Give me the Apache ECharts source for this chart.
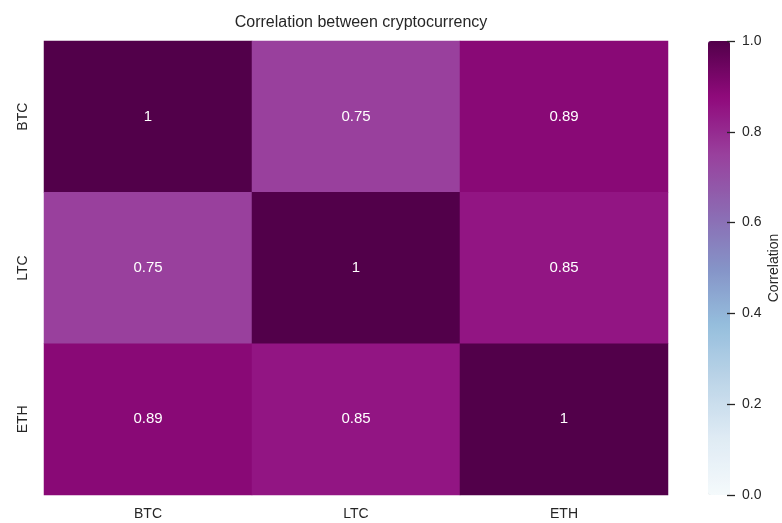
<!DOCTYPE html>
<html><head><meta charset="utf-8">
<script src="https://cdn.jsdelivr.net/npm/echarts@6/dist/echarts.min.js"></script>
<style>html,body{margin:0;padding:0;background:#fff}#c{width:782px;height:523px}</style>
</head><body><div id="c"></div>
<script>
const coins = ['BTC', 'LTC', 'ETH'];
const corrBTC = [1, 0.75, 0.89];
const corrLTC = [0.75, 1, 0.85];
const corrETH = [0.89, 0.85, 1];
const colorbarTicks = [0, 0.2, 0.4, 0.6, 0.8, 1.0];
const rows = [corrBTC, corrLTC, corrETH];
const data = [];
rows.forEach((r, yi) => r.forEach((v, xi) => data.push([xi, yi, v])));
const FONT = '"Liberation Sans", Arial, sans-serif';
const chart = echarts.init(document.getElementById('c'));
chart.setOption({
  animation: false,
  backgroundColor: '#fff',
  title: {text: 'Correlation between cryptocurrency', left: 356, top: 10, textAlign: 'center',
    textStyle: {fontFamily: FONT, fontSize: 16, fontWeight: 'normal', color: '#262626'}},
  grid: [
    {left: 44, right: 114, top: 41, bottom: 28},
    {left: 708, width: 22, top: 41, height: 454, z: 10}
  ],
  xAxis: [
    {type: 'category', data: coins, gridIndex: 0, axisLine: {show: false}, axisTick: {show: false},
      axisLabel: {fontFamily: FONT, fontSize: 14, color: '#262626', margin: 12}, splitLine: {show: false}},
    {type: 'value', gridIndex: 1, show: false, min: 0, max: 1}
  ],
  yAxis: [
    {type: 'category', data: coins, inverse: true, gridIndex: 0, axisLine: {show: false}, axisTick: {show: false},
      axisLabel: {fontFamily: FONT, fontSize: 14, color: '#262626', rotate: 90, margin: 14}, splitLine: {show: false}},
    {type: 'value', gridIndex: 1, position: 'right', offset: 8, min: 0, max: 1, interval: 0.2, z: 20,
      axisLine: {show: true, onZero: false, lineStyle: {color: 'rgba(0,0,0,0)'}},
      axisTick: {show: true, inside: false, length: 8, lineStyle: {color: '#262626', width: 1.3}},
      axisLabel: {fontFamily: FONT, fontSize: 14, color: '#262626', margin: 15,
        formatter: v => v.toFixed(1)},
      splitLine: {show: false},
      name: 'Correlation', nameLocation: 'middle', nameGap: 40, nameRotate: 90,
      nameTextStyle: {fontFamily: FONT, fontSize: 14, color: '#262626'}}
  ],
  visualMap: {
    type: 'continuous', min: 0, max: 1, seriesIndex: 0, calculable: false, show: true, z: 1,
    left: 708, top: 41, itemWidth: 22, itemHeight: 454, padding: 0, text: ['', ''], textGap: 0,
    inRange: {color: ['#f5fafc', '#dfebf4', '#bdd5e8', '#95bedd', '#8593c7', '#8c69b2', '#99409d', '#900a7c', '#52004a']}
  },
  series: [
    {type: 'heatmap', xAxisIndex: 0, yAxisIndex: 0, data: data,
      label: {show: true, color: '#ffffff', fontFamily: FONT, fontSize: 15, formatter: p => String(p.value[2])},
      itemStyle: {borderWidth: 0}},
    {type: 'line', xAxisIndex: 1, yAxisIndex: 1, data: [[0.5, 0.5]], symbol: 'none', silent: true, lineStyle: {opacity: 0}}
  ]
});
</script></body></html>
